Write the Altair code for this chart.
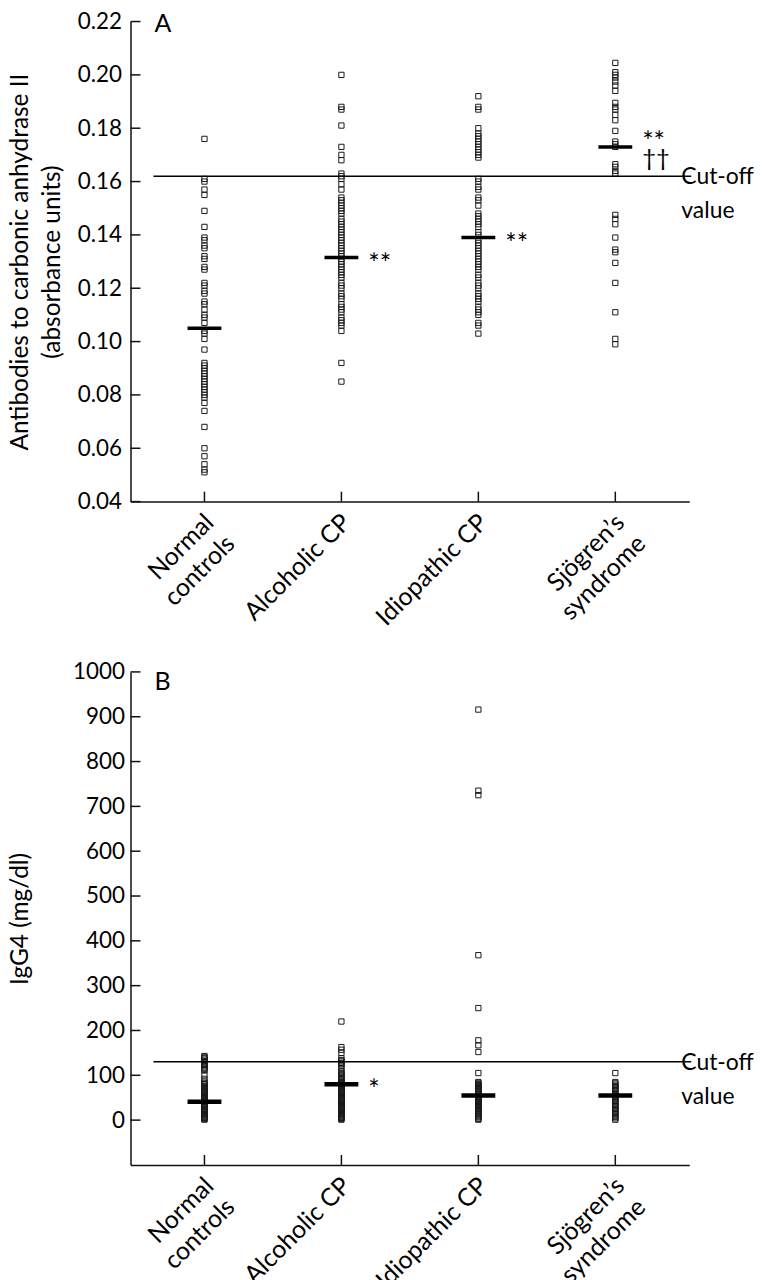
import altair as alt
import pandas as pd

categories = ["Normal controls", "Alcoholic CP", "Idiopathic CP", "Sjögren’s syndrome"]

# ---------------- Panel A: antibodies to carbonic anhydrase II ----------------
normal_A = [0.176, 0.161, 0.160, 0.157, 0.155, 0.149, 0.143, 0.139, 0.138, 0.136, 0.135,
            0.132, 0.131, 0.128, 0.127, 0.122, 0.121, 0.119, 0.118, 0.115, 0.114, 0.112,
            0.110, 0.109, 0.107, 0.104, 0.103, 0.101, 0.097, 0.092, 0.091, 0.090, 0.089,
            0.088, 0.087, 0.086, 0.085, 0.084, 0.083, 0.082, 0.081, 0.080, 0.079, 0.077,
            0.074, 0.068, 0.060, 0.057, 0.054, 0.052, 0.051]
alcoholic_A = [0.200, 0.188, 0.187, 0.181, 0.173, 0.170, 0.168, 0.163, 0.162, 0.161, 0.159,
               0.157, 0.154, 0.153, 0.152, 0.151, 0.150, 0.149, 0.148, 0.146, 0.145, 0.144,
               0.143, 0.142, 0.141, 0.140, 0.139, 0.138, 0.137, 0.136, 0.135, 0.134, 0.133,
               0.132, 0.131, 0.130, 0.129, 0.128, 0.127, 0.126, 0.125, 0.124, 0.122, 0.121,
               0.120, 0.118, 0.117, 0.116, 0.114, 0.113, 0.112, 0.111, 0.109, 0.108, 0.107,
               0.106, 0.104, 0.092, 0.085]
idiopathic_A = [0.192, 0.188, 0.187, 0.180, 0.178, 0.177, 0.176, 0.175, 0.174, 0.173, 0.172,
                0.171, 0.170, 0.169, 0.161, 0.160, 0.158, 0.157, 0.154, 0.153, 0.151, 0.148,
                0.147, 0.146, 0.145, 0.144, 0.143, 0.141, 0.140, 0.138, 0.137, 0.136, 0.135,
                0.134, 0.133, 0.132, 0.131, 0.130, 0.129, 0.128, 0.127, 0.125, 0.124, 0.122,
                0.121, 0.120, 0.118, 0.117, 0.116, 0.115, 0.113, 0.112, 0.111, 0.110, 0.107,
                0.106, 0.103]
sjogren_A = [0.2045, 0.201, 0.200, 0.199, 0.1975, 0.196, 0.194, 0.1895, 0.188, 0.187, 0.185,
             0.183, 0.179, 0.175, 0.174, 0.173, 0.1665, 0.1655, 0.164, 0.163, 0.1475, 0.146,
             0.144, 0.139, 0.1345, 0.1335, 0.1295, 0.122, 0.111, 0.101, 0.099]
means_A = [0.105, 0.1315, 0.139, 0.173]
cutoff_A = 0.162
yticks_A = [0.04, 0.06, 0.08, 0.10, 0.12, 0.14, 0.16, 0.18, 0.20, 0.22]
domain_A = [0.04, 0.22]

# ---------------- Panel B: IgG4 ----------------
normal_B = [1, 3, 5, 7, 9, 11, 13, 15, 17, 19, 21, 23, 25, 29, 31, 33, 35, 37, 39, 41, 43,
            45, 47, 49, 51, 53, 55, 57, 59, 61, 63, 65, 67, 69, 71, 73, 75, 77, 80, 83, 86,
            92, 100, 111, 114, 117, 120, 123, 126, 129, 132, 135, 138, 141, 143]
alcoholic_B = [1, 3, 5, 7, 9, 11, 13, 15, 17, 19, 21, 23, 25, 27, 29, 31, 33, 35, 37, 39,
               41, 43, 45, 47, 49, 51, 53, 55, 57, 59, 61, 63, 65, 67, 69, 71, 73, 75, 77,
               79, 81, 83, 85, 88, 91, 94, 97, 100, 103, 106, 109, 116, 122, 125, 128, 131,
               134, 138, 150, 157, 163, 220]
idiopathic_B = [1, 3, 6, 8, 10, 13, 15, 17, 20, 22, 24, 27, 29, 31, 34, 36, 38, 41, 43, 45,
                48, 50, 52, 55, 57, 59, 62, 64, 66, 69, 71, 73, 76, 78, 80, 83, 85, 105, 152,
                167, 178, 250, 368, 725, 735, 916]
sjogren_B = [1, 4, 7, 10, 13, 16, 19, 22, 25, 28, 31, 34, 37, 40, 43, 46, 49, 52, 55, 58,
             61, 64, 67, 70, 73, 76, 79, 82, 85, 105]
means_B = [41, 80, 55, 55]
cutoff_B = 130
yticks_B = [0, 100, 200, 300, 400, 500, 600, 700, 800, 900, 1000]
domain_B = [-100, 1000]

FONT = "Lato"
W = 561
TICK_LEN = 10

label_expr = ("datum.value == 'Normal controls' ? ['Normal', 'controls'] : "
              "datum.value == 'Sjögren’s syndrome' ? ['Sjögren’s', 'syndrome'] : [datum.label]")


def points_df(lists):
    rows = []
    for cat, vals in zip(categories, lists):
        rows += [{"group": cat, "value": v} for v in vals]
    return pd.DataFrame(rows)


def panel(lists, means, cutoff, yticks, domain, fmt, title, letter, letter_y, H,
          label_pad, mean_thick, notes):
    xenc = alt.X("group:N", sort=categories,
                 scale=alt.Scale(type="point", padding=0.54),
                 axis=alt.Axis(title=None, labelAngle=315, labelAlign="right",
                               labelBaseline="top", labelPadding=8, labelOffset=-4,
                               labelFontSize=25, labelLineHeight=30, labelExpr=label_expr,
                               ticks=False, tickSize=0, domainColor="#111",
                               domainWidth=1.5, labelColor="black", labelFont=FONT,
                               grid=False))
    yenc = alt.Y("value:Q",
                 scale=alt.Scale(domain=domain, nice=False, zero=False),
                 axis=alt.Axis(values=yticks, format=fmt, title=title, titleX=-122,
                               titleBaseline="top", titleAngle=270, titleFontSize=24.5,
                               titleFontWeight="normal", titleLineHeight=32,
                               titleColor="black", titleFont=FONT,
                               labelFontSize=22.5, labelColor="black", labelFont=FONT,
                               labelPadding=label_pad, ticks=False, tickSize=0,
                               domainColor="#111", domainWidth=1.5, grid=False))

    pts = alt.Chart(points_df(lists)).mark_point(
        shape="square", filled=False, size=28, strokeWidth=1, color="#1a1a1a", opacity=1
    ).encode(x=xenc, y=yenc)

    mean_df = pd.DataFrame({"group": categories, "value": means})
    mean_mark = alt.Chart(mean_df).mark_tick(
        size=34, thickness=mean_thick, color="black", opacity=1
    ).encode(x=xenc, y=yenc)

    cut_df = pd.DataFrame({"value": [cutoff]})
    cut_line = alt.Chart(cut_df).mark_rule(color="black", strokeWidth=1.5).encode(
        x=alt.value(23), x2=alt.value(W + 2), y=yenc)
    cut_txt1 = alt.Chart(cut_df).mark_text(
        text="Cut-off", align="left", baseline="middle", fontSize=23, font=FONT,
        color="black", dy=1).encode(x=alt.value(W - 8), y=yenc)
    cut_txt2 = alt.Chart(cut_df).mark_text(
        text="value", align="left", baseline="middle", fontSize=23, font=FONT,
        color="black", dy=35).encode(x=alt.value(W - 8), y=yenc)

    ytick_df = pd.DataFrame({"value": yticks})
    ytk = alt.Chart(ytick_df).mark_rule(color="#111", strokeWidth=1.5).encode(
        x=alt.value(0), x2=alt.value(TICK_LEN), y=yenc)
    xtick_df = pd.DataFrame({"group": categories})
    xtk = alt.Chart(xtick_df).mark_rule(color="#111", strokeWidth=1.5).encode(
        x=xenc, y=alt.value(H), y2=alt.value(H - TICK_LEN))

    letter_txt = alt.Chart(pd.DataFrame({"t": [letter]})).mark_text(
        align="left", baseline="middle", fontSize=25, font=FONT, color="black"
    ).encode(x=alt.value(24), y=alt.value(letter_y), text="t:N")

    layers = [pts, mean_mark, cut_line, cut_txt1, cut_txt2, ytk, xtk, letter_txt]
    for (groups, vals, txt, size, dy) in notes:
        ndf = pd.DataFrame({"group": groups, "value": vals})
        layers.append(alt.Chart(ndf).mark_text(
            text=txt, align="left", baseline="alphabetic", fontSize=size, font=FONT,
            color="black", dx=27, dy=dy).encode(x=xenc, y=yenc))

    return alt.layer(*layers).properties(width=W, height=H)


panel_A = panel(
    [normal_A, alcoholic_A, idiopathic_A, sjogren_A], means_A, cutoff_A, yticks_A,
    domain_A, ".2f", ["Antibodies to carbonic anhydrase II", "(absorbance units)"],
    "A", 3, 482, 9, 3.5,
    [(["Alcoholic CP", "Idiopathic CP"], [means_A[1], means_A[2]], "**", 27, 15),
     (["Sjögren’s syndrome"], [means_A[3]], "**", 27, 4),
     (["Sjögren’s syndrome"], [means_A[3]], "††", 24, 19)])

panel_B = panel(
    [normal_B, alcoholic_B, idiopathic_B, sjogren_B], means_B, cutoff_B, yticks_B,
    domain_B, "d", "IgG4 (mg/dl)", "B", 10, 495, 6, 4.5,
    [(["Alcoholic CP"], [means_B[1]], "*", 27, 15)])

chart = alt.vconcat(panel_A, panel_B, spacing=31).properties(
    padding={"left": 0, "top": 0, "right": 0, "bottom": 0}
).configure(font=FONT).configure_view(strokeWidth=0, stroke="transparent")

chart.save("out.html", embed_options={"renderer": "svg", "actions": False})
